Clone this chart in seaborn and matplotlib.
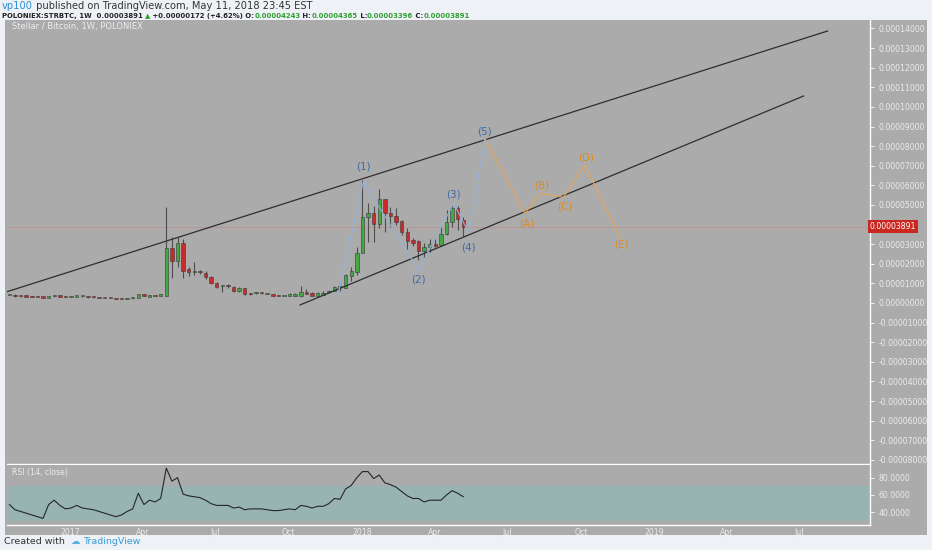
import numpy as np
import pandas as pd
import matplotlib
matplotlib.use("Agg")
import matplotlib.pyplot as plt
import matplotlib.dates as mdates
from matplotlib.patches import Rectangle
import seaborn as sns

# weekly STR/BTC candles in satoshi, first week 2016-10-17
opens = [420, 420, 350, 335, 330, 325, 300, 250, 340, 400, 330, 320, 330, 340, 300, 290,
         280, 260, 250, 220, 200, 200, 230, 240, 450, 330, 360, 380, 360, 2790, 2160, 3080,
         1720, 1590, 1600, 1550, 1310, 1030, 850, 880, 830, 600, 740, 470, 500, 510, 470, 470,
         370, 360, 360, 360, 360, 560, 520, 360, 410, 560, 610, 800, 780, 1380, 1600, 2570,
         4370, 4570, 4010, 5290, 4600, 4450, 4200, 3620, 3210, 3160, 2670, 2850, 3000, 2940,
         3520, 4150, 4860, 4243]
highs = [470, 440, 370, 350, 340, 335, 310, 360, 420, 420, 340, 340, 350, 355, 310, 300,
         290, 270, 255, 230, 210, 230, 250, 480, 470, 400, 380, 460, 4910, 3380, 3380, 3250,
         1850, 2100, 1700, 1650, 1380, 1080, 920, 950, 870, 800, 760, 520, 540, 530, 500, 480,
         390, 380, 525, 500, 867, 700, 560, 540, 600, 680, 880, 1080, 1500, 1840, 2840, 6270,
         5120, 4930, 5800, 5290, 4910, 4830, 4250, 3830, 3290, 3210, 3060, 3250, 3250, 3880,
         4760, 5020, 4960, 4365]
lows = [400, 330, 330, 320, 315, 310, 270, 240, 330, 320, 310, 310, 320, 330, 280, 275,
        260, 240, 230, 190, 185, 195, 220, 230, 350, 320, 340, 370, 340, 1250, 1850, 1300,
        1400, 1430, 1500, 1230, 980, 750, 580, 750, 580, 580, 430, 430, 480, 480, 450, 340,
        340, 340, 350, 350, 350, 450, 340, 350, 400, 520, 600, 600, 760, 1120, 1430, 2570,
        3100, 3100, 3810, 3630, 3880, 3980, 3470, 2770, 2900, 2190, 2280, 2620, 2850, 2900,
        3470, 3890, 3720, 3396]
closes = [440, 340, 340, 330, 325, 320, 280, 340, 400, 330, 320, 330, 340, 345, 290, 285,
          270, 250, 240, 200, 195, 220, 240, 450, 360, 380, 350, 420, 2790, 2160, 3080, 1650,
          1580, 1600, 1590, 1310, 1030, 800, 860, 870, 600, 740, 470, 460, 510, 500, 480, 350,
          360, 360, 440, 460, 576, 460, 360, 520, 525, 620, 830, 820, 1430, 1630, 2570, 4370,
          4600, 4010, 5290, 4600, 4450, 4150, 3620, 3180, 3050, 2670, 2840, 2990, 2910, 3520,
          4150, 4860, 4270, 3891]
rsi = [49, 43, 41, 39, 37, 35, 33, 49, 54, 48, 44, 45, 48, 45, 44, 43, 41, 39, 37, 35,
       37, 41, 44, 62, 49, 54, 52, 56, 91, 76, 80, 61, 59, 58, 57, 54, 50, 48, 48, 48,
       45, 46, 43, 44, 44, 44, 43, 42, 42, 43, 44, 43, 48, 47, 45, 47, 47, 50, 56, 55,
       67, 71, 80, 87, 87, 79, 83, 74, 72, 69, 64, 59, 56, 56, 52, 54, 54, 54, 60, 65,
       62, 58]

# drawings: channel lines and wave counts (date, satoshi)
upper_dates = ["2016-10-14", "2019-08-05"]
upper_prices = [576, 13872]
lower_dates = ["2017-10-15", "2019-07-06"]
lower_prices = [-100, 10557]
impulse_labels = ["", "(1)", "(2)", "(3)", "(4)", "(5)"]
impulse_dates = ["2017-12-02", "2018-01-02", "2018-03-12", "2018-04-25", "2018-05-14", "2018-06-03"]
impulse_prices = [495, 6186, 1683, 5085, 3555, 8400]
corr_labels = ["", "(A)", "(B)", "(C)", "(D)", "(E)"]
corr_dates = ["2018-06-03", "2018-07-23", "2018-08-11", "2018-09-09", "2018-10-06", "2018-11-19"]
corr_prices = [8400, 4575, 5595, 5390, 7038, 3300]

price_ticks = [14, 13, 12, 11, 10, 9, 8, 7, 6, 5, 3, 2, 1, 0, -1, -2, -3, -4, -5, -6, -7, -8]
rsi_ticks = [40, 60, 80]

SAT = 1e-8
weeks = pd.date_range("2016-10-17", periods=len(closes), freq="7D")
df = pd.DataFrame({"week": weeks, "open": opens, "high": highs, "low": lows,
                   "close": closes, "rsi": rsi})

BG = "#ababab"
plt.rcParams["font.family"] = ["DejaVu Sans"]
fig = plt.figure(figsize=(9.32, 5.5), dpi=100, facecolor="#eef2f6")
fig.patches.append(Rectangle((5 / 932, 1 - 535 / 550), 922 / 932, 515 / 550,
                             transform=fig.transFigure, facecolor=BG, edgecolor="none", zorder=-5))

ax = fig.add_axes([7 / 932, 1 - 464 / 550, 863 / 932, 444 / 550])
ax2 = fig.add_axes([7 / 932, 1 - 525 / 550, 863 / 932, 60 / 550], sharex=ax)
for a in (ax, ax2):
    a.set_facecolor(BG)
    for s in a.spines.values():
        s.set_visible(False)
    for side in ("right", "bottom"):
        a.spines[side].set_visible(True)
        a.spines[side].set_color("white")
        a.spines[side].set_linewidth(1.0)

# candles
up = df["close"] >= df["open"]
colors = np.where(up, "#43a843", "#cc2a2a")
body_lo = np.minimum(df["open"], df["close"]) * SAT
body_h = np.maximum((df["close"] - df["open"]).abs(), 55) * SAT
ax.vlines(df["week"], df["low"] * SAT, df["high"] * SAT, color="#4d4d4d", lw=0.8, zorder=2)
ax.bar(df["week"], body_h, bottom=body_lo, width=4.3, color=colors,
       edgecolor="#3a3a3a", linewidth=0.4, zorder=3)

# channel
for d, p in ((upper_dates, upper_prices), (lower_dates, lower_prices)):
    sns.lineplot(x=pd.to_datetime(d), y=np.array(p) * SAT, ax=ax, color="#2e2e2e", lw=0.9, zorder=4)

# last close line
last = closes[-1] * SAT
ax.axhline(last, color="#c49090", lw=0.6, zorder=1)

# wave counts
sns.lineplot(x=pd.to_datetime(impulse_dates), y=np.array(impulse_prices) * SAT, ax=ax,
             color="#93b3dc", lw=0.8, sort=False, zorder=4)
sns.lineplot(x=pd.to_datetime(corr_dates), y=np.array(corr_prices) * SAT, ax=ax,
             color="#e6a656", lw=0.8, sort=False, zorder=4)
imp_off = [0, 10.8, -6.5, 6.0, -10.0, 4.8]
cor_off = [0, -7.2, 5.5, -6.8, 5.3, -4.8]
for lab, d, p, o in zip(impulse_labels, impulse_dates, impulse_prices, imp_off):
    if lab:
        ax.annotate(lab, (pd.Timestamp(d), p * SAT), xytext=(0, o), textcoords="offset points",
                    ha="center", va="center", fontsize=7.5, color="#3e6ca6", zorder=5)
for lab, d, p, o in zip(corr_labels, corr_dates, corr_prices, cor_off):
    if lab:
        ax.annotate(lab, (pd.Timestamp(d), p * SAT), xytext=(1, o), textcoords="offset points",
                    ha="center", va="center", fontsize=7.5, color="#e08a20", zorder=5)

ax.set_xlim(pd.Timestamp("2016-10-14"), pd.Timestamp("2019-09-27"))
ax.set_ylim(-8211 * SAT, 14433 * SAT)
ax.yaxis.tick_right()
ax.set_yticks([t * 1e-5 for t in price_ticks])
ax.set_yticklabels([f"{t * 1e-5:.8f}" for t in price_ticks])
ax.tick_params(axis="y", colors="white", labelcolor="#ececec", labelsize=5.6, length=3, width=0.6, pad=3)
ax.tick_params(axis="x", bottom=False, labelbottom=False)
ax.set_xlabel("")
ax.set_ylabel("")
ax.text(1.0, last, f"{last:.8f}", transform=ax.get_yaxis_transform(), ha="left", va="center",
        fontsize=5.6, color="white", zorder=6, clip_on=False,
        bbox=dict(boxstyle="square,pad=0.25", facecolor="#c9271f", edgecolor="none"))
ax.text(5 / 863, 1 - 7 / 444, "Stellar / Bitcoin, 1W, POLONIEX", transform=ax.transAxes,
        ha="left", va="center", fontsize=6, color="#ececec")

# RSI panel
ax2.axhspan(30, 70, color="#97b4b3", zorder=0, lw=0)
sns.lineplot(data=df, x="week", y="rsi", ax=ax2, color="#262626", lw=0.8, zorder=3)
ax2.set_ylim(25.4, 94.6)
ax2.yaxis.tick_right()
ax2.set_yticks(rsi_ticks)
ax2.set_yticklabels([f"{t:.4f}" for t in rsi_ticks])
ax2.tick_params(axis="y", colors="white", labelcolor="#ececec", labelsize=5.6, length=3, width=0.6, pad=3)
ax2.xaxis.set_major_locator(mdates.MonthLocator(bymonth=[1, 4, 7, 10]))
ax2.xaxis.set_major_formatter(plt.FuncFormatter(
    lambda v, _: mdates.num2date(v).strftime("%Y" if mdates.num2date(v).month == 1 else "%b")))
ax2.tick_params(axis="x", colors="white", labelcolor="#ececec", labelsize=5.6, length=0, pad=2)
ax2.set_xlabel("")
ax2.set_ylabel("")
ax2.text(5 / 863, 1 - 8 / 60, "RSI (14, close)", transform=ax2.transAxes,
         ha="left", va="center", fontsize=5.6, color="#ececec")


# header and footer, pieces chained left to right
def rainbow(parts, x, y, **kw):
    t = fig.text(x, y, parts[0][0], color=parts[0][1], va="baseline", ha="left", **kw)
    for s, c in parts[1:]:
        t = fig.text(0, 0, s, color=c, va="bottom", ha="left", **kw) if False else \
            ax.annotate(s, xycoords=t, xy=(1, 0), va="bottom", ha="left", color=c,
                        annotation_clip=False, **kw)
    return t


rainbow([("vp100", "#2a8fd6"), (" published on TradingView.com, May 11, 2018 23:45 EST", "#333333")],
        2 / 932, 1 - 9 / 550, fontsize=7.1)
G = "#2f9e2f"
D = "#222222"
rainbow([("POLONIEX:STRBTC, 1W  0.00003891 ", D), ("\u25b2", G), (" +0.00000172 (+4.62%) O:", D),
         ("0.00004243", G), (" H:", D), ("0.00004365", G), (" L:", D), ("0.00003396", G),
         (" C:", D), ("0.00003891", G)],
        2 / 932, 1 - 18 / 550, fontsize=4.95, fontweight="bold")

rainbow([("Created with  ", "#333333"), ("\u2601 ", "#5ab0e0"), ("TradingView", "#3a9ad6")],
        4 / 932, 1 - 544 / 550, fontsize=6.8)

fig.savefig("out.png", dpi=100, facecolor=fig.get_facecolor())
